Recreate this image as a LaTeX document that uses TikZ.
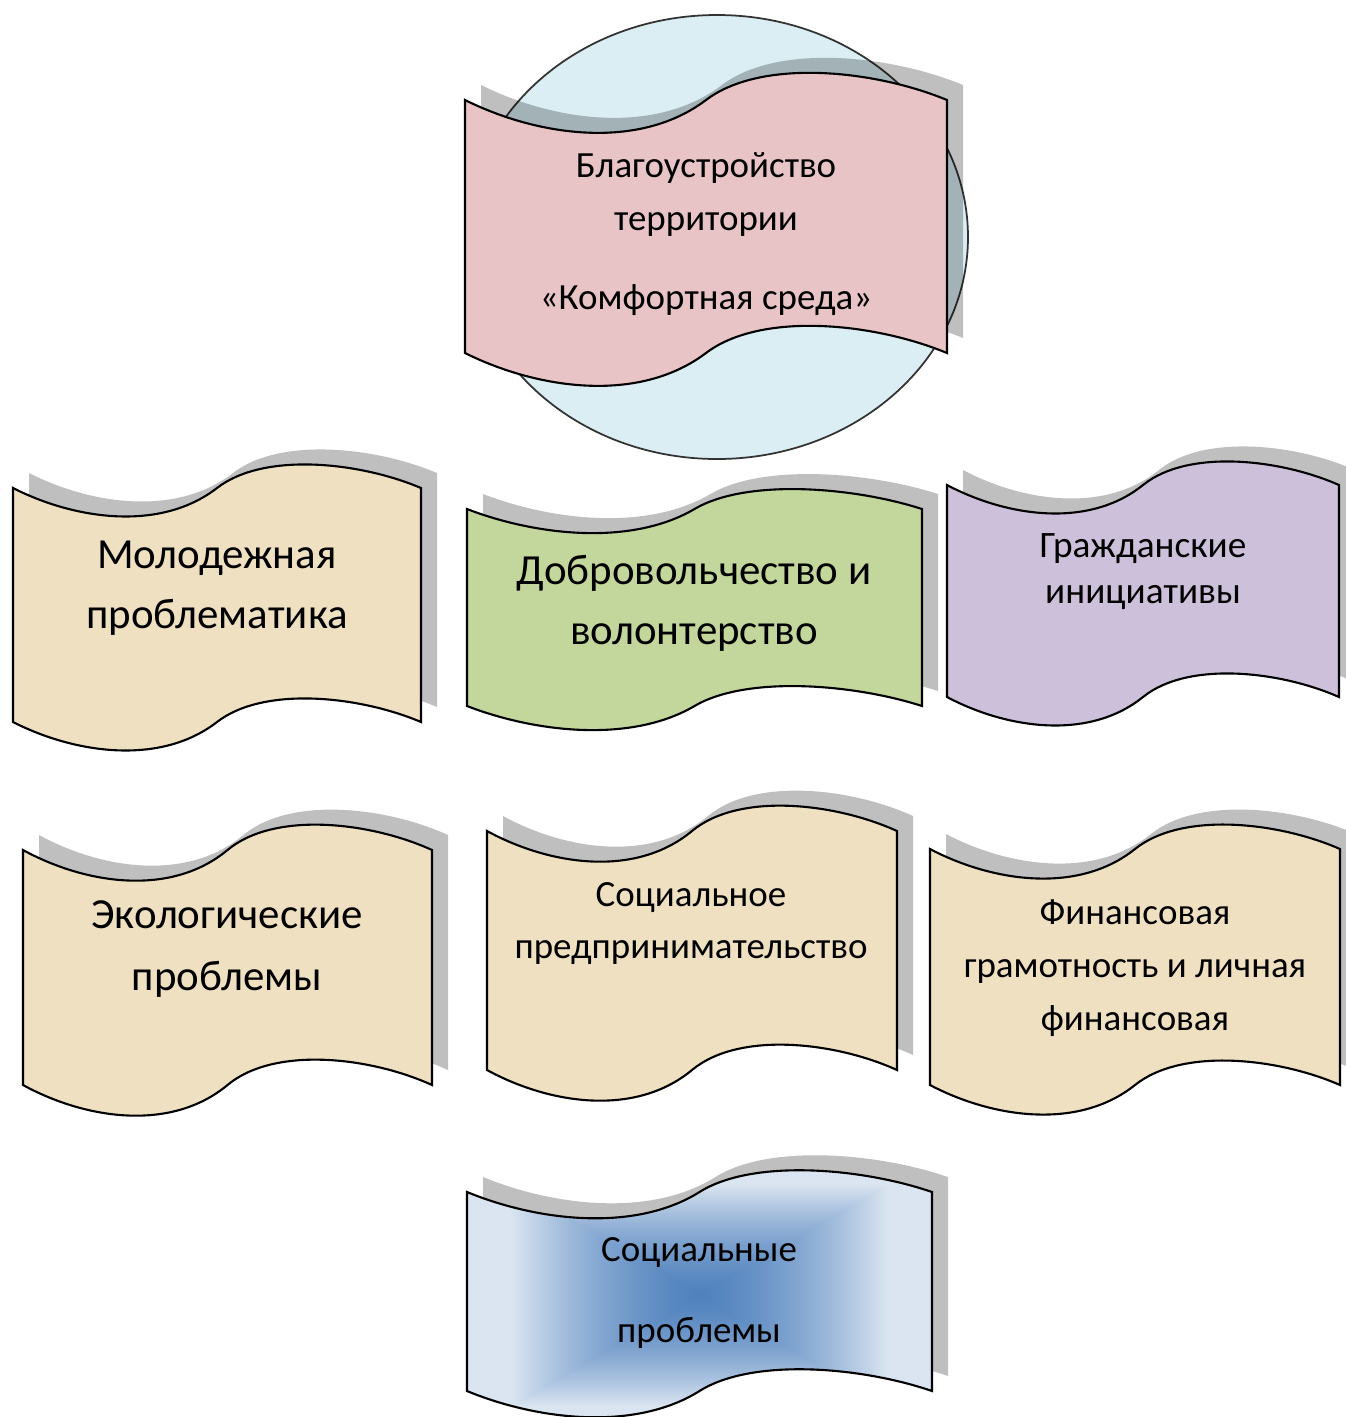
\documentclass[tikz,border=0pt]{standalone}
\usepackage{fontspec}
\setmainfont{Carlito}
\usepackage{tikz}
\usetikzlibrary{calc}
\definecolor{parchTan}{HTML}{EFE0C2}
\definecolor{tissuePink}{HTML}{E9C4C7}
\definecolor{leafGreen}{HTML}{C3D69B}
\definecolor{lilac}{HTML}{CCC0DA}
\definecolor{skyCircle}{HTML}{DAEEF3}
% blue glow from the centre out to the edges of the banner
\pgfdeclarefunctionalshading{boxglow}{\pgfpoint{-50bp}{-50bp}}{\pgfpoint{50bp}{50bp}}{}{
  abs 25 div exch abs 25 div
  2 copy lt {exch} if pop
  dup 0.9 mul 0.5 add mul dup 1 gt {pop 1} if
  dup 0.549 mul 0.310 add
  exch dup 0.392 mul 0.506 add
  exch 0.204 mul 0.741 add
}
% wave banner: left, right, top end, bottom end, amplitude (px, y down)
\newcommand{\wavepath}[5]{%
  (#1,#3) .. controls ({#1+0.15*(#2-#1)},{#3+1.2*#5}) and ({#1+0.36*(#2-#1)},{#3+1.7*#5}) .. ({#1+0.5*(#2-#1)},#3)
  .. controls ({#1+0.615*(#2-#1)},{#3-1.4*#5}) and ({#1+0.85*(#2-#1)},{#3-1.0*#5}) .. (#2,#3)
  -- (#2,#4) .. controls ({#1+0.85*(#2-#1)},{#4-1.0*#5}) and ({#1+0.615*(#2-#1)},{#4-1.4*#5}) .. ({#1+0.5*(#2-#1)},#4)
  .. controls ({#1+0.36*(#2-#1)},{#4+1.7*#5}) and ({#1+0.15*(#2-#1)},{#4+1.2*#5}) .. (#1,#4) -- cycle}

\begin{document}
\begin{tikzpicture}[x=0.01cm,y=-0.01cm,
  shadowpart/.style={fill=black,opacity=0.25,shift={(16,-15)}},
  wave/.style={draw=black,line width=0.6pt},
  bannertext/.style={align=center,text=black},
  bigtext/.style={bannertext,font=\fontsize{12.2}{17}\selectfont},
  smalltext/.style={bannertext,font=\fontsize{10.5}{15}\selectfont}]
  \useasboundingbox (0,0) rectangle (1346,1417);

  % circle behind the top banner
  \draw[fill=skyCircle,draw=black!80,line width=0.5pt] (717,237) ellipse [x radius=251,y radius=222];

  % top banner
  \fill[shadowpart] \wavepath{465}{947}{100}{353}{30};
  \draw[wave,fill=tissuePink] \wavepath{465}{947}{100}{353}{30};
  \node[smalltext] (comfort) at (706,234) {Благоустройство\\территории\\[7.5pt]«Комфортная среда»};

  % first row
  \fill[shadowpart] \wavepath{13}{421}{488}{722}{26};
  \draw[wave,fill=parchTan] \wavepath{13}{421}{488}{722}{26};
  \node[bigtext] (youth) at (217,588) {Молодежная\\проблематика};

  \fill[shadowpart] \wavepath{467}{922}{509}{706}{22};
  \draw[wave,fill=leafGreen] \wavepath{467}{922}{509}{706}{22};
  \node[bigtext] (volunteer) at (694,603) {Добровольчество и\\волонтерство};

  \fill[shadowpart] \wavepath{947}{1339}{485}{697}{26};
  \draw[wave,fill=lilac] \wavepath{947}{1339}{485}{697}{26};
  \node[bannertext,font=\fontsize{10.6}{13.1}\selectfont] (civic) at (1143,572) {Гражданские\\инициативы};

  % second row
  \fill[shadowpart] \wavepath{23}{432}{850}{1085}{28};
  \draw[wave,fill=parchTan] \wavepath{23}{432}{850}{1085}{28};
  \node[bigtext,font=\fontsize{12.2}{17.6}\selectfont] (ecology) at (227,949) {Экологические\\проблемы};

  \fill[shadowpart] \wavepath{487}{897}{831}{1070}{28};
  \draw[wave,fill=parchTan] \wavepath{487}{897}{831}{1070}{28};
  \node[smalltext,font=\fontsize{10.5}{14.8}\selectfont] (socbiz) at (691,924) {Социальное\\предпринимательство};

  \fill[shadowpart] \wavepath{930}{1340}{849}{1085}{27};
  \draw[wave,fill=parchTan] \wavepath{930}{1340}{849}{1085}{27};
  \node[smalltext] (finance) at (1135,968) {Финансовая\\грамотность и личная\\финансовая};

  % bottom banner
  \fill[shadowpart] \wavepath{467}{932}{1192}{1391}{24};
  \draw[wave,shading=boxglow] \wavepath{467}{932}{1192}{1391}{24};
  \node[bannertext,font=\fontsize{10.5}{22.8}\selectfont] (social) at (699,1293) {Социальные\\проблемы};
\end{tikzpicture}
\end{document}
